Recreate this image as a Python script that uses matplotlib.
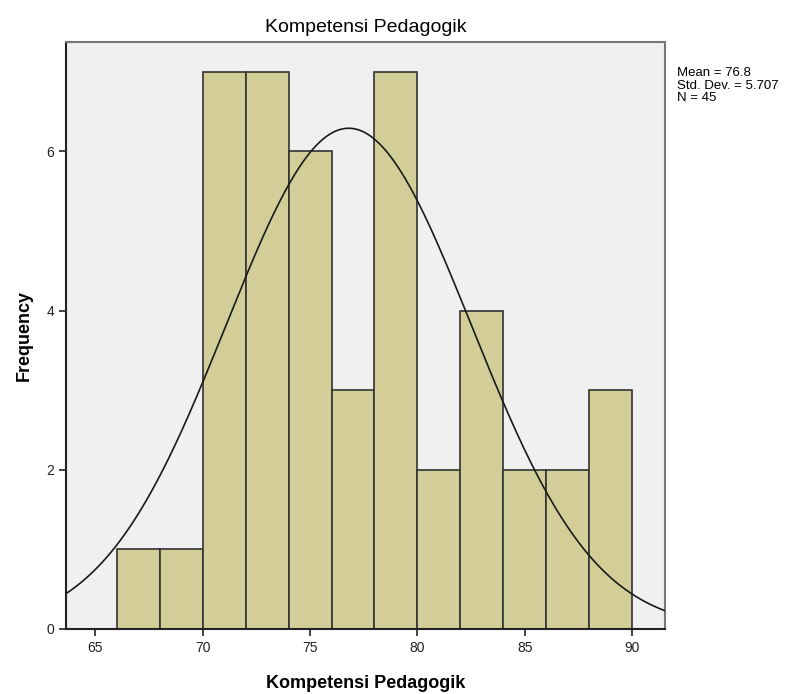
import numpy as np
import matplotlib
matplotlib.use("Agg")
from matplotlib import pyplot as plt

plt.rcParams['font.family'] = ['Liberation Sans', 'DejaVu Sans']

# histogram of Kompetensi Pedagogik, bin width 2
bin_edges = [66, 68, 70, 72, 74, 76, 78, 80, 82, 84, 86, 88, 90]
counts = [1, 1, 7, 7, 6, 3, 7, 2, 4, 2, 2, 3]
mean = 76.8
std = 5.707
n = 45

fig = plt.figure(figsize=(7.96, 6.94), dpi=100)
ax = fig.add_axes([0.083, 0.094, 0.752, 0.846])
ax.set_facecolor("#f0f0f0")

widths = np.diff(bin_edges)
ax.bar(bin_edges[:-1], counts, width=widths, align="edge",
       color="#d3ce97", edgecolor="#333333", linewidth=1.2, zorder=2)

xlo, xhi = 63.65, 91.5
xs = np.linspace(xlo, xhi, 400)
ys = n * 2 / (std * np.sqrt(2 * np.pi)) * np.exp(-0.5 * ((xs - mean) / std) ** 2)
ax.plot(xs, ys, color="#1a1a1a", linewidth=1.2, zorder=3)

ax.set_xlim(xlo, xhi)
ax.set_ylim(0, 7.38)
ax.set_xticks([65, 70, 75, 80, 85, 90])
ax.set_yticks([0, 2, 4, 6])
ax.tick_params(labelsize=10, direction="out", length=5, width=1.2, colors="#222222")
ax.tick_params(axis="x", pad=4)

for s in ["left", "bottom"]:
    ax.spines[s].set_color("#222222")
    ax.spines[s].set_linewidth(1.5)
for s in ["top", "right"]:
    ax.spines[s].set_color("#777777")
    ax.spines[s].set_linewidth(1.5)

ax.set_title("Kompetensi Pedagogik", fontsize=14, pad=7)
ax.set_xlabel("Kompetensi Pedagogik", fontsize=13, fontweight="bold", labelpad=14)
ax.set_ylabel("Frequency", fontsize=13, fontweight="bold", labelpad=10)

fig.text(0.851, 0.903, "Mean = %.1f\nStd. Dev. = %.3f\nN = %d" % (mean, std, n),
         fontsize=9.5, va="top", ha="left", linespacing=1.05)

fig.savefig("out.png", dpi=100)
